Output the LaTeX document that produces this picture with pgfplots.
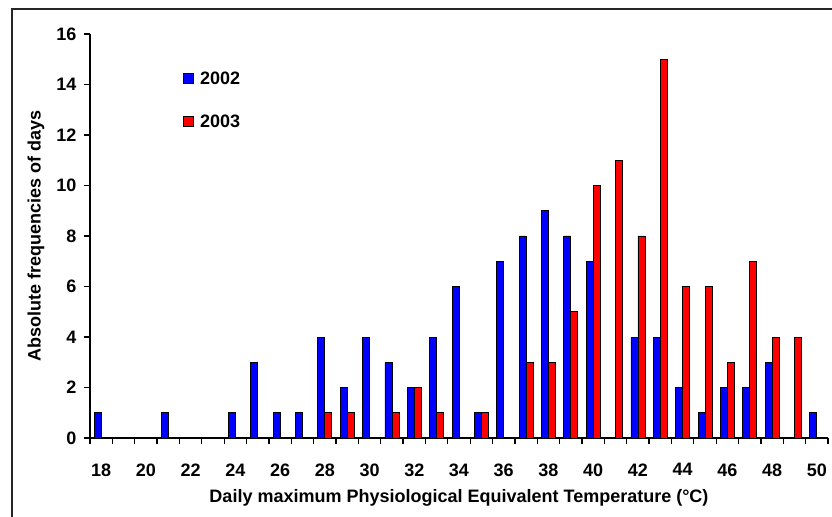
\documentclass[border=0pt]{standalone}
\usepackage{pgfplots}
\pgfplotsset{compat=1.18}
\usepackage{fontspec}
\setmainfont{Liberation Sans}

\definecolor{blue02}{RGB}{0,0,255}
\definecolor{red03}{RGB}{255,0,0}

\begin{document}
\begin{tikzpicture}[font=\fontsize{18bp}{21bp}\selectfont\bfseries]
  % whole picture, 1px = 1bp, axis corner at the origin
  \useasboundingbox (-90bp,-79bp) rectangle (742bp,438bp);
  % chart frame (cut off at right and bottom in the reference)
  \draw[line width=1.5bp, black!85] (-78bp,-79bp) -- (-78bp,429bp) -- (742bp,429bp);

  \begin{axis}[
    at={(0,0)}, anchor=south west,
    scale only axis,
    width=738bp, height=404bp,
    xmin=17.5, xmax=50.5,
    ymin=0, ymax=16,
    ybar=0pt,
    bar width=7bp,
    axis x line*=bottom,
    axis y line*=left,
    axis line style={line width=1.2bp},
    % ticks between the categories, a label on every second one
    xtick={17.5,18.5,...,50.5},
    x tick label as interval,
    xticklabels={18,,20,,22,,24,,26,,28,,30,,32,,34,,36,,38,,40,,42,,44,,46,,48,,50},
    ytick={0,2,...,16},
    tick align=outside,
    major tick length=6bp,
    every tick/.style={line width=1.2bp, draw=black},
    xtick style={draw=black, line width=1.2bp},
    /pgf/number format/assume math mode=true,
    xticklabel style={yshift=-16bp},
    yticklabel style={xshift=-4bp},
    xlabel={Daily maximum Physiological Equivalent Temperature (°C)},
    ylabel={Absolute frequencies of days},
    x label style={at={(rel axis cs:0.5,0)}, anchor=center, yshift=-60bp},
    y label style={at={(rel axis cs:0,0.5)}, anchor=center, yshift=54bp},
    legend style={at={(axis cs:21.66,14.5)}, anchor=north west,
      draw=none, fill=none, inner sep=0pt, row sep=29bp, column sep=6bp,
      nodes={inner sep=0pt}},
    legend cell align=left,
    legend image code/.code={\draw[#1] (0bp,-4bp) rectangle (10bp,6bp);},
  ]

  \addplot[fill=blue02, draw=black, line width=0.8bp] coordinates {
    (18,1) (21,1) (24,1) (25,3) (26,1) (27,1) (28,4) (29,2) (30,4)
    (31,3) (32,2) (33,4) (34,6) (35,1) (36,7) (37,8) (38,9) (39,8)
    (40,7) (42,4) (43,4) (44,2) (45,1) (46,2) (47,2) (48,3) (50,1)
  };
  \addlegendentry{2002}

  \addplot[fill=red03, draw=black, line width=0.8bp] coordinates {
    (28,1) (29,1) (31,1) (32,2) (33,1) (35,1) (37,3) (38,3) (39,5)
    (40,10) (41,11) (42,8) (43,15) (44,6) (45,6) (46,3) (47,7) (48,4)
    (49,4)
  };
  \addlegendentry{2003}

  \end{axis}
\end{tikzpicture}
\end{document}
